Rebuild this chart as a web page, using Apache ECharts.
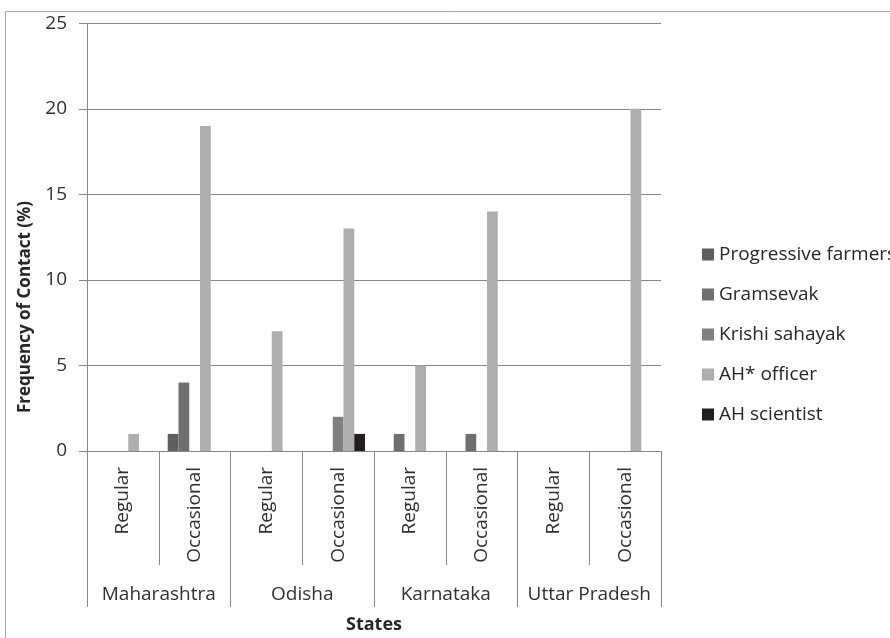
<!DOCTYPE html>
<html>
<head>
<meta charset="utf-8">
<script src="https://cdn.jsdelivr.net/npm/echarts@6/dist/echarts.min.js"></script>
<style>
  html, body { margin: 0; padding: 0; background: #fff; }
  #chart { width: 890px; height: 638px; }
</style>
</head>
<body>
<div id="chart"></div>
<script>
// Contact type within each state (inner axis level)
const contactTypes = ['Regular', 'Occasional', 'Regular', 'Occasional', 'Regular', 'Occasional', 'Regular', 'Occasional'];
// States (outer axis level)
const states = ['Maharashtra', 'Odisha', 'Karnataka', 'Uttar Pradesh'];

// Frequency of contact (%) per source, one value per contact type above
const progressiveFarmers = [0, 1, 0, 0, 0, 0, 0, 0];
const gramsevak          = [0, 4, 0, 0, 1, 1, 0, 0];
const krishiSahayak      = [0, 0, 0, 2, 0, 0, 0, 0];
const ahOfficer          = [1, 19, 7, 13, 5, 14, 0, 20];
const ahScientist        = [0, 0, 0, 1, 0, 0, 0, 0];

const seriesNames = ['Progressive farmers', 'Gramsevak', 'Krishi sahayak', 'AH* officer', 'AH scientist'];
const seriesValues = [progressiveFarmers, gramsevak, krishiSahayak, ahOfficer, ahScientist];
const seriesColors = ['#5f5f61', '#6f6f72', '#808083', '#aeaeb0', '#231f20'];

const yTicks = { min: 0, max: 25, interval: 5 };

const FONT = 'Open Sans';
const TEXT = '#303030';
const LINE = '#868686';

const chart = echarts.init(document.getElementById('chart'), null, { renderer: 'canvas' });

chart.setOption({
  animation: false,
  backgroundColor: '#ffffff',
  grid: { left: 87, right: 229, top: 23.3, bottom: 187, containLabel: false },
  legend: {
    orient: 'vertical',
    left: 697,
    top: 240,
    itemWidth: 12,
    itemHeight: 12,
    itemGap: 21,
    icon: 'rect',
    selectedMode: false,
    textStyle: { fontFamily: FONT, fontSize: 19, color: '#262626' },
    data: seriesNames
  },
  xAxis: [
    {
      type: 'category',
      data: contactTypes,
      position: 'bottom',
      axisLine: { show: true, lineStyle: { color: LINE, width: 1 } },
      axisTick: { show: true, interval: 0, length: 114, lineStyle: { color: LINE, width: 1 } },
      axisLabel: {
        interval: 0, rotate: 90, margin: 16,
        fontFamily: FONT, fontSize: 19, color: TEXT
      },
      splitLine: { show: false }
    },
    {
      type: 'category',
      data: states,
      position: 'bottom',
      axisLine: { show: false },
      axisTick: { show: true, interval: 0, length: 156, lineStyle: { color: LINE, width: 1 } },
      axisLabel: {
        interval: 0, margin: 134,
        fontFamily: FONT, fontSize: 19, color: TEXT
      },
      splitLine: { show: false }
    }
  ],
  yAxis: {
    type: 'value',
    min: yTicks.min,
    max: yTicks.max,
    interval: yTicks.interval,
    axisLine: { show: true, lineStyle: { color: LINE, width: 1 } },
    axisTick: { show: true, length: 8, lineStyle: { color: LINE, width: 1 } },
    axisLabel: { margin: 20, fontFamily: FONT, fontSize: 19, color: TEXT },
    splitLine: { show: true, lineStyle: { color: LINE, width: 1 } }
  },
  series: seriesNames.map((name, i) => ({
    name: name,
    type: 'bar',
    xAxisIndex: 0,
    data: seriesValues[i],
    barGap: '0%',
    barCategoryGap: '25%',
    itemStyle: { color: seriesColors[i] }
  })),
  graphic: [
    {
      type: 'rect',
      silent: true,
      shape: { x: 5.5, y: 11.5, width: 1000, height: 1000 },
      style: { fill: 'none', stroke: '#a6a6a6', lineWidth: 1 }
    },
    {
      type: 'text',
      silent: true,
      x: 25, y: 307,
      rotation: Math.PI / 2,
      style: {
        text: 'Frequency of Contact (%)',
        fontFamily: FONT, fontSize: 17, fontWeight: 'bold', fill: '#262626',
        textAlign: 'center', textVerticalAlign: 'middle'
      }
    },
    {
      type: 'text',
      silent: true,
      x: 374, y: 625,
      style: {
        text: 'States',
        fontFamily: FONT, fontSize: 18, fontWeight: 'bold', fill: '#262626',
        textAlign: 'center', textVerticalAlign: 'middle'
      }
    }
  ]
});
</script>
</body>
</html>
